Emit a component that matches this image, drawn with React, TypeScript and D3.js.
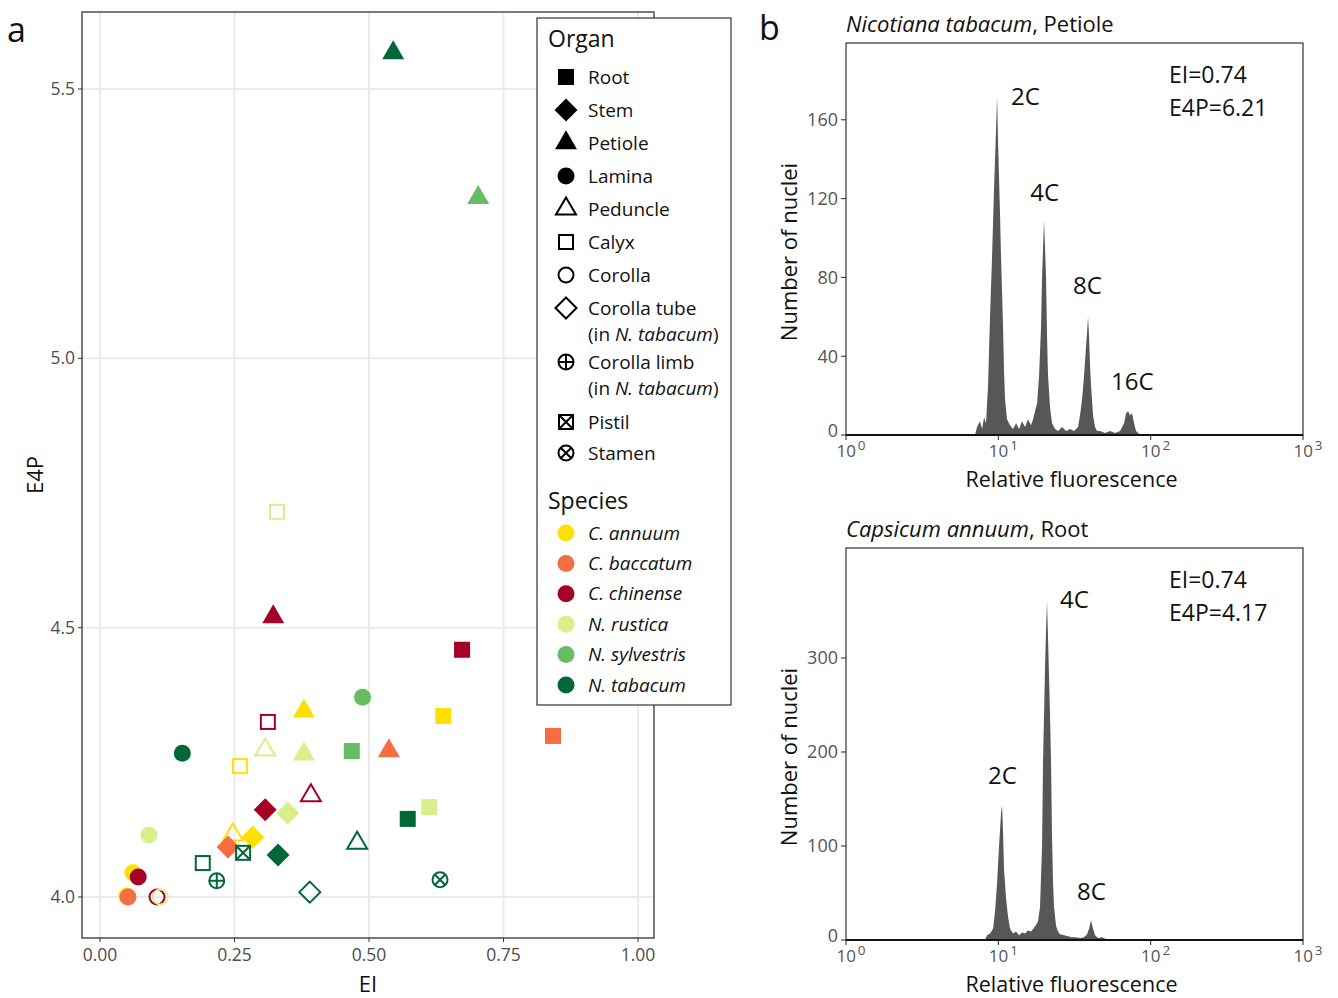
import React from 'react';
import * as d3 from 'd3';

const FONT = "'Open Sans', 'Noto Sans', sans-serif";

const speciesNames = ['C. annuum', 'C. baccatum', 'C. chinense', 'N. rustica', 'N. sylvestris', 'N. tabacum'];
const speciesColors = ['#FFE000', '#F46D43', '#A50026', '#D9EF8B', '#66BD63', '#006837'];
const organNames = ['Root', 'Stem', 'Petiole', 'Lamina', 'Peduncle', 'Calyx', 'Corolla', 'Corolla tube', 'Corolla limb', 'Pistil', 'Stamen'];

const eiTicks = [0, 0.25, 0.5, 0.75, 1];
const e4pTicks = [4.0, 4.5, 5.0, 5.5];

// [species, organ, EI, E4P]
const scatterPoints: [string, string, number, number][] = [
  ['N. tabacum', 'Petiole', 0.545, 5.567],
  ['N. sylvestris', 'Petiole', 0.703, 5.298],
  ['N. rustica', 'Calyx', 0.329, 4.715],
  ['C. chinense', 'Petiole', 0.322, 4.520],
  ['C. chinense', 'Root', 0.673, 4.459],
  ['N. sylvestris', 'Lamina', 0.488, 4.371],
  ['C. annuum', 'Root', 0.638, 4.336],
  ['C. baccatum', 'Root', 0.842, 4.299],
  ['C. annuum', 'Petiole', 0.379, 4.345],
  ['C. chinense', 'Calyx', 0.312, 4.325],
  ['N. tabacum', 'Lamina', 0.153, 4.267],
  ['N. rustica', 'Peduncle', 0.307, 4.273],
  ['N. rustica', 'Petiole', 0.379, 4.265],
  ['N. sylvestris', 'Root', 0.468, 4.271],
  ['C. baccatum', 'Petiole', 0.537, 4.271],
  ['C. annuum', 'Calyx', 0.260, 4.243],
  ['C. chinense', 'Peduncle', 0.392, 4.188],
  ['C. chinense', 'Stem', 0.307, 4.162],
  ['N. rustica', 'Stem', 0.349, 4.156],
  ['N. rustica', 'Root', 0.612, 4.167],
  ['N. tabacum', 'Root', 0.572, 4.145],
  ['N. rustica', 'Lamina', 0.091, 4.115],
  ['C. annuum', 'Peduncle', 0.247, 4.115],
  ['C. annuum', 'Stem', 0.284, 4.111],
  ['N. tabacum', 'Peduncle', 0.478, 4.100],
  ['C. baccatum', 'Stem', 0.238, 4.093],
  ['N. tabacum', 'Pistil', 0.266, 4.082],
  ['N. tabacum', 'Stem', 0.331, 4.078],
  ['N. tabacum', 'Calyx', 0.191, 4.063],
  ['N. tabacum', 'Corolla limb', 0.217, 4.030],
  ['N. tabacum', 'Stamen', 0.632, 4.032],
  ['N. tabacum', 'Corolla tube', 0.390, 4.009],
  ['C. annuum', 'Lamina', 0.061, 4.045],
  ['C. chinense', 'Lamina', 0.071, 4.037],
  ['C. annuum', 'Corolla', 0.050, 4.002],
  ['C. baccatum', 'Lamina', 0.052, 4.000],
  ['C. chinense', 'Corolla', 0.106, 4.000],
  ['N. rustica', 'Corolla', 0.112, 4.000],
];

// flow cytometry histograms: [relative fluorescence, number of nuclei]
const tabacumPetiole: [number, number][] = [
  [7.03, 0], [7.25, 4], [7.58, 7], [7.82, 3], [8.06, 9], [8.30, 6], [8.56, 25], [8.82, 60], [9.09, 90],
  [9.37, 125], [9.66, 155], [9.81, 172], [9.95, 150], [10.11, 130], [10.26, 112], [10.42, 90], [10.74, 55],
  [10.90, 32], [11.07, 18], [11.40, 8], [11.93, 5], [12.49, 3], [13.07, 6], [13.68, 3], [14.31, 7], [14.98, 4],
  [15.67, 8], [16.40, 5], [16.90, 8], [17.42, 12], [17.96, 16], [18.51, 30], [19.07, 55], [19.36, 80],
  [19.66, 95], [19.96, 109], [20.26, 95], [20.57, 80], [20.88, 50], [21.20, 30], [21.85, 14], [22.52, 6],
  [23.56, 3], [24.66, 2], [26.20, 4], [27.83, 2], [29.57, 3], [31.41, 2], [33.37, 4], [34.39, 10], [35.45, 18],
  [36.53, 30], [37.65, 45], [38.23, 52], [38.81, 60], [39.40, 50], [40.00, 35], [40.61, 25], [41.85, 10],
  [43.14, 4], [44.47, 2], [46.53, 2], [50.19, 1], [54.12, 2], [58.40, 1], [62.97, 2], [66.89, 6], [68.95, 11],
  [71.05, 12], [73.23, 10], [75.48, 11], [77.80, 6], [80.18, 2], [85.20, 0],
];
const annuumRoot: [number, number][] = [
  [8.18, 0], [8.43, 5], [8.82, 7], [9.23, 12], [9.51, 30], [9.81, 60], [10.11, 100], [10.42, 135], [10.58, 143],
  [10.74, 115], [10.90, 75], [11.23, 45], [11.58, 25], [11.93, 12], [12.49, 7], [13.07, 9], [13.68, 5],
  [14.31, 8], [14.98, 7], [15.67, 10], [16.40, 9], [17.16, 13], [17.68, 16], [18.23, 20], [18.78, 35],
  [19.36, 100], [19.66, 190], [20.26, 290], [20.57, 330], [20.88, 360], [21.20, 320], [21.52, 280],
  [21.85, 240], [22.18, 190], [22.52, 110], [22.87, 60], [23.21, 35], [23.93, 15], [24.66, 9], [25.42, 6],
  [27.01, 5], [28.69, 4], [30.48, 3], [32.38, 3], [34.39, 2], [36.53, 3], [38.23, 6], [39.40, 12], [40.61, 21],
  [41.85, 12], [43.14, 5], [45.14, 2], [47.96, 3], [50.96, 1], [54.12, 0],
];
const tabacumCountTicks = [0, 40, 80, 120, 160];
const annuumCountTicks = [0, 100, 200, 300];
const decadeTicks = [1, 10, 100, 1000];
const decadeExponents = ['0', '1', '2', '3'];

// peak annotations: [label, fluorescence, count]
const tabacumPeaks: [string, number, number][] = [['2C', 12.1, 172], ['4C', 16.2, 123], ['8C', 30.9, 76], ['16C', 54.9, 27]];
const annuumPeaks: [string, number, number][] = [['4C', 25.4, 362], ['2C', 8.56, 175], ['8C', 32.9, 52]];

const colorOf = (s: string) => speciesColors[speciesNames.indexOf(s)];

function Marker({ organ, color }: { organ: string; color: string }) {
  const sw = 2;
  switch (organ) {
    case 'Root':
      return <rect x={-8} y={-8} width={16} height={16} fill={color} />;
    case 'Stem':
      return <path d="M0,-11.5L11.5,0L0,11.5L-11.5,0Z" fill={color} />;
    case 'Petiole':
      return <path d="M0,-12.7L11,6.3L-11,6.3Z" fill={color} />;
    case 'Lamina':
      return <circle r={8.5} fill={color} />;
    case 'Peduncle':
      return <path d="M0,-11.5L10,5.5L-10,5.5Z" fill="none" stroke={color} strokeWidth={sw} />;
    case 'Calyx':
      return <rect x={-7} y={-7} width={14} height={14} fill="none" stroke={color} strokeWidth={sw} />;
    case 'Corolla':
      return <circle r={7.5} fill="none" stroke={color} strokeWidth={sw} />;
    case 'Corolla tube':
      return <path d="M0,-10.5L10.5,0L0,10.5L-10.5,0Z" fill="none" stroke={color} strokeWidth={sw} />;
    case 'Corolla limb':
      return (
        <g fill="none" stroke={color} strokeWidth={sw}>
          <circle r={7.5} />
          <path d="M-7.5,0H7.5M0,-7.5V7.5" />
        </g>
      );
    case 'Pistil':
      return (
        <g fill="none" stroke={color} strokeWidth={sw}>
          <rect x={-7} y={-7} width={14} height={14} />
          <path d="M-7,-7L7,7M7,-7L-7,7" />
        </g>
      );
    case 'Stamen':
      return (
        <g fill="none" stroke={color} strokeWidth={sw}>
          <circle r={7.5} />
          <path d="M-5.3,-5.3L5.3,5.3M5.3,-5.3L-5.3,5.3" />
        </g>
      );
    default:
      return null;
  }
}

function ScatterPanel() {
  const left = 82, right = 654, top = 12, bottom = 938;
  const x = d3.scaleLinear().domain([0, 1]).range([100, 638]);
  const y = d3.scaleLinear().domain([4.0, 5.5]).range([897, 89]);
  const tickCol = '#4D4D4D';

  return (
    <g>
      <rect x={left} y={top} width={right - left} height={bottom - top} fill="white" />
      {eiTicks.map(t => (
        <line key={'gx' + t} x1={x(t)} x2={x(t)} y1={top} y2={bottom} stroke="#EBEBEB" strokeWidth={2} />
      ))}
      {e4pTicks.map(t => (
        <line key={'gy' + t} x1={left} x2={right} y1={y(t)} y2={y(t)} stroke="#EBEBEB" strokeWidth={2} />
      ))}
      {scatterPoints.map((p, i) => (
        <g key={i} transform={`translate(${x(p[2])},${y(p[3])})`}>
          <Marker organ={p[1]} color={colorOf(p[0])} />
        </g>
      ))}
      <rect x={left} y={top} width={right - left} height={bottom - top} fill="none" stroke="#333" strokeWidth={1.3} />
      {eiTicks.map(t => (
        <g key={'tx' + t}>
          <line x1={x(t)} x2={x(t)} y1={bottom} y2={bottom + 4} stroke="#333" />
          <text x={x(t)} y={bottom + 23} textAnchor="middle" fontSize={17.5} fill={tickCol}>{d3.format('.2f')(t)}</text>
        </g>
      ))}
      {e4pTicks.map(t => (
        <g key={'ty' + t}>
          <line x1={left - 4} x2={left} y1={y(t)} y2={y(t)} stroke="#333" />
          <text x={left - 7} y={y(t)} dy="0.35em" textAnchor="end" fontSize={17.5} fill={tickCol}>{d3.format('.1f')(t)}</text>
        </g>
      ))}
      <text x={(left + right) / 2} y={992} textAnchor="middle" fontSize={22}>EI</text>
      <text transform={`translate(43,${(top + bottom) / 2}) rotate(-90)`} textAnchor="middle" fontSize={22}>E4P</text>
    </g>
  );
}

function Legend() {
  const bx = 537, by = 18, bw = 194, bh = 687;
  const symX = 566, txtX = 588;
  let yy = 77;
  const rows: { organ: string; y: number }[] = [];
  organNames.forEach(o => {
    rows.push({ organ: o, y: yy });
    yy += o === 'Corolla tube' ? 54 : o === 'Corolla limb' ? 60 : o === 'Pistil' ? 31 : 33;
  });
  return (
    <g>
      <rect x={bx} y={by} width={bw} height={bh} fill="white" stroke="#333" strokeWidth={1.2} />
      <text x={548} y={47} fontSize={23}>Organ</text>
      {rows.map(r => (
        <g key={r.organ}>
          <g transform={`translate(${symX},${r.y})`}>
            <Marker organ={r.organ} color="#000" />
          </g>
          <text x={txtX} y={r.y} dy="0.35em" fontSize={19}>{r.organ}</text>
          {(r.organ === 'Corolla tube' || r.organ === 'Corolla limb') && (
            <text x={txtX} y={r.y + 26} dy="0.35em" fontSize={19}>
              (in <tspan fontStyle="italic">N. tabacum</tspan>)
            </text>
          )}
        </g>
      ))}
      <text x={548} y={509} fontSize={23}>Species</text>
      {speciesNames.map((s, i) => (
        <g key={s}>
          <circle cx={symX} cy={533 + i * 30.4} r={8.5} fill={speciesColors[i]} />
          <text x={txtX} y={533 + i * 30.4} dy="0.35em" fontSize={19} fontStyle="italic">{s}</text>
        </g>
      ))}
    </g>
  );
}

function Histogram({ data, top, yMax, ticks, peaks, genus, organ, e4p }: {
  data: [number, number][]; top: number; yMax: number; ticks: number[];
  peaks: [string, number, number][]; genus: string; organ: string; e4p: string;
}) {
  const left = 846, right = 1303, bottom = top + 392;
  const x = d3.scaleLog().domain([1, 1000]).range([left, right]);
  const y = d3.scaleLinear().domain([0, yMax]).range([bottom, top]);
  const area = d3.area<[number, number]>().x(d => x(d[0])).y0(y(0)).y1(d => y(d[1]));
  const tickCol = '#555';
  return (
    <g>
      <text x={left} y={top - 11} fontSize={22}>
        <tspan fontStyle="italic">{genus}</tspan>, {organ}
      </text>
      <rect x={left} y={top} width={right - left} height={bottom - top} fill="white" stroke="#333" strokeWidth={1.2} />
      <path d={area(data) || ''} fill="#575757" />
      <line x1={left} x2={right} y1={bottom} y2={bottom} stroke="#111" strokeWidth={2} />
      {ticks.map(t => (
        <g key={t}>
          <line x1={left - 5} x2={left} y1={y(t)} y2={y(t)} stroke="#222" />
          <text x={left - 8} y={y(t) - (t === 0 ? 4 : 0)} dy="0.35em" textAnchor="end" fontSize={18} fill={tickCol}>{t}</text>
        </g>
      ))}
      {decadeTicks.map((t, i) => (
        <g key={t}>
          <line x1={x(t)} x2={x(t)} y1={bottom} y2={bottom + 5} stroke="#222" />
          <text x={x(t) + 5} y={bottom + 22} textAnchor="middle" fontSize={17} fill={tickCol}>
            10<tspan dx={2} dy={-7} fontSize={13.5}>{decadeExponents[i]}</tspan>
          </text>
        </g>
      ))}
      {peaks.map(p => (
        <text key={p[0]} x={x(p[1])} y={y(p[2])} dy="0.35em" fontSize={24}>{p[0]}</text>
      ))}
      <text x={1169} y={top + 32} dy="0.35em" fontSize={23}>EI=0.74</text>
      <text x={1169} y={top + 65} dy="0.35em" fontSize={23}>{'E4P=' + e4p}</text>
      <text x={(left + right) / 2 - 3} y={bottom + 51.5} textAnchor="middle" fontSize={21.5}>Relative fluorescence</text>
      <text transform={`translate(797,${(top + bottom) / 2 + 13}) rotate(-90)`} textAnchor="middle" fontSize={22}>Number of nuclei</text>
    </g>
  );
}

export default function App() {
  return (
    <svg width={1338} height={998} style={{ position: 'absolute', left: 0, top: 0, background: 'white' }}
      fontFamily={FONT} fill="#111">
      <rect width={1338} height={998} fill="white" />
      <text x={7} y={42} fontSize={34}>a</text>
      <text x={759} y={40} fontSize={34}>b</text>
      <ScatterPanel />
      <Legend />
      <Histogram data={tabacumPetiole} top={43} yMax={199} ticks={tabacumCountTicks} peaks={tabacumPeaks}
        genus="Nicotiana tabacum" organ="Petiole" e4p="6.21" />
      <Histogram data={annuumRoot} top={548} yMax={417} ticks={annuumCountTicks} peaks={annuumPeaks}
        genus="Capsicum annuum" organ="Root" e4p="4.17" />
    </svg>
  );
}
